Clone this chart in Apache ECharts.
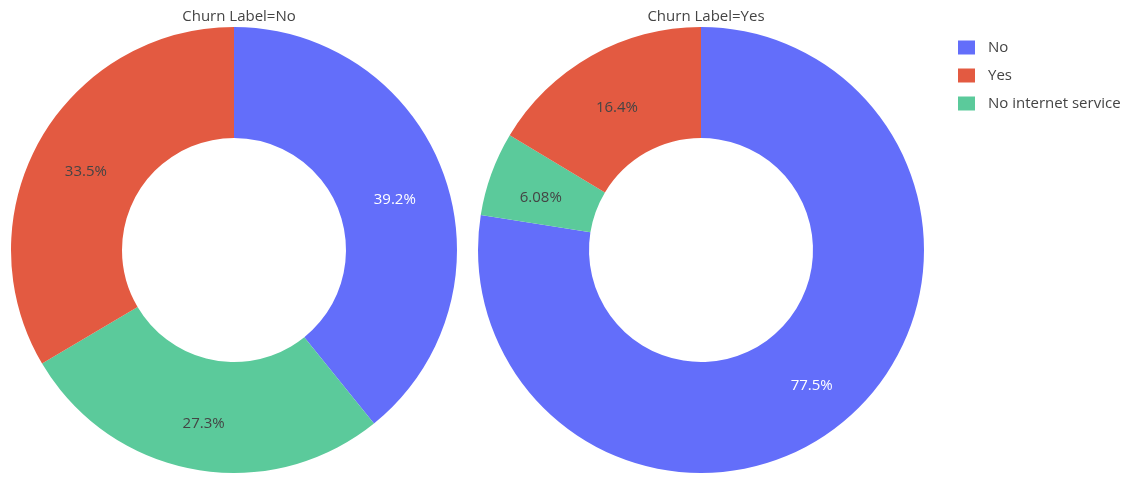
<!DOCTYPE html>
<html>
<head>
<meta charset="utf-8">
<script src="https://cdn.jsdelivr.net/npm/echarts@6/dist/echarts.min.js"></script>
<style>
  html, body { margin: 0; padding: 0; background: #fff; }
  #chart { width: 1148px; height: 478px; }
</style>
</head>
<body>
<div id="chart"></div>
<script>
// Internet-service option split by churn label
const categories = ['No', 'No internet service', 'Yes'];
const legendOrder = ['No', 'Yes', 'No internet service'];
const churnNo = [39.2, 27.3, 33.5];
const churnYes = [77.5, 6.08, 16.4];
const panelTitles = ['Churn Label=No', 'Churn Label=Yes'];

const colors = { 'No': '#636efa', 'Yes': '#e35a41', 'No internet service': '#5bca9b' };
const labelColors = { 'No': '#ffffff', 'Yes': '#444444', 'No internet service': '#444444' };
const fontFamily = '"Open Sans", "DejaVu Sans", sans-serif';

function pieData(values) {
  return categories.map((name, i) => ({
    name,
    value: values[i],
    itemStyle: { color: colors[name] },
    label: { color: labelColors[name] }
  }));
}

function pieSeries(values, cx) {
  return {
    type: 'pie',
    center: [cx, 250],
    radius: [112, 223],
    startAngle: 90,
    clockwise: true,
    avoidLabelOverlap: false,
    silent: true,
    label: {
      show: true,
      position: 'inside',
      fontFamily,
      fontSize: 15,
      // empty spacer line nudges the percentage slightly below the ring's midline
      formatter: p => '{gap|}\n{v|' + p.value + '%}',
      rich: {
        gap: { height: 12, fontSize: 1 },
        v: { fontFamily, fontSize: 15 }
      }
    },
    labelLine: { show: false },
    itemStyle: { borderWidth: 0 },
    data: pieData(values)
  };
}

const chart = echarts.init(document.getElementById('chart'), null, { renderer: 'canvas' });
chart.setOption({
  animation: false,
  backgroundColor: '#ffffff',
  title: [
    { text: panelTitles[0], left: 234, top: 4, textAlign: 'center',
      textStyle: { fontFamily, fontSize: 15, fontWeight: 'normal', color: '#444' } },
    { text: panelTitles[1], left: 701, top: 4, textAlign: 'center',
      textStyle: { fontFamily, fontSize: 15, fontWeight: 'normal', color: '#444' } }
  ],
  legend: {
    orient: 'vertical',
    left: 953,
    top: 35,
    itemWidth: 17,
    itemHeight: 14,
    itemGap: 13,
    icon: 'rect',
    data: legendOrder,
    textStyle: { fontFamily, fontSize: 15, color: '#444', padding: [0, 0, 0, 8] }
  },
  series: [pieSeries(churnNo, 234), pieSeries(churnYes, 701)]
});
</script>
</body>
</html>
